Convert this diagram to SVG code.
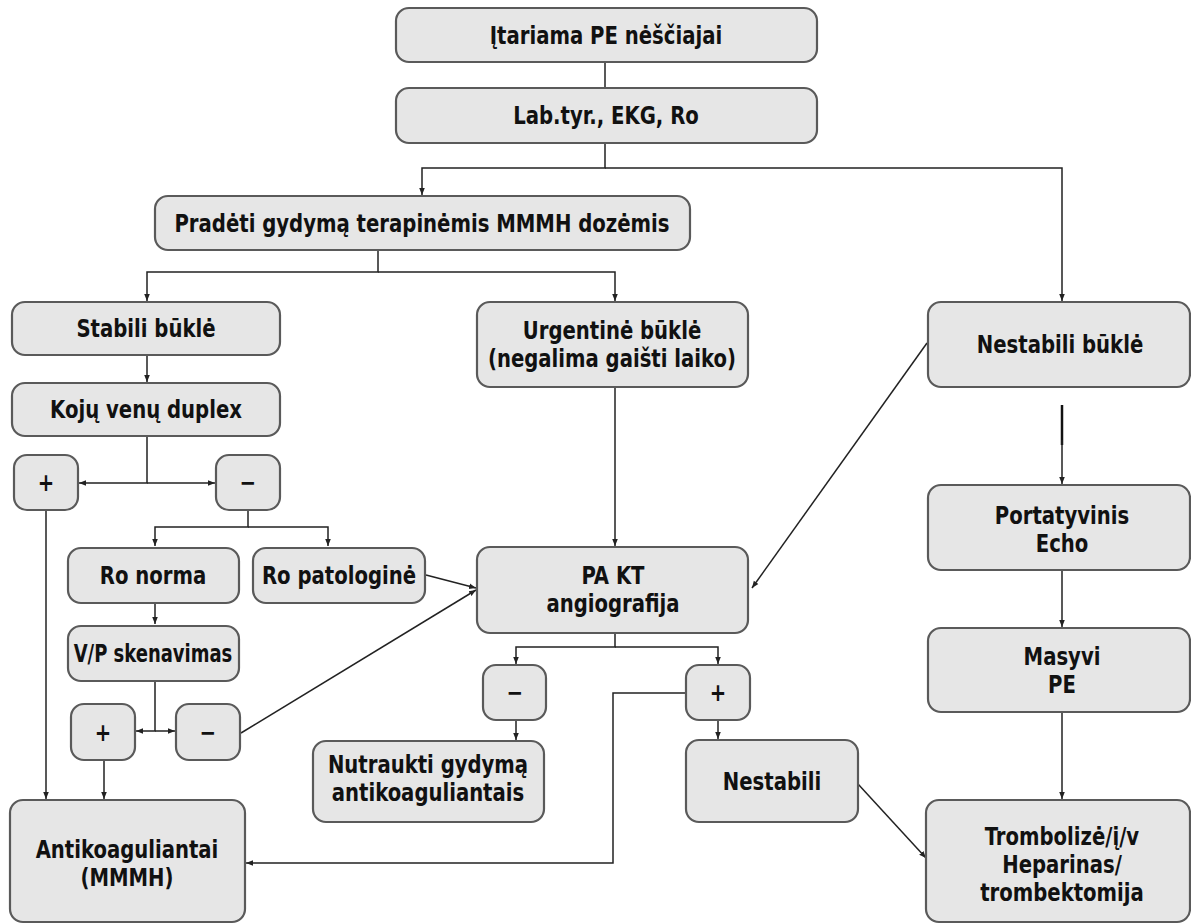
<svg xmlns="http://www.w3.org/2000/svg" width="1191" height="924" viewBox="0 0 1191 924">
<style>
.box{fill:#e6e6e6;stroke:#5a5a5a;stroke-width:2.2}
.t{font-family:"DejaVu Sans Condensed","Liberation Sans",sans-serif;font-weight:bold;font-size:25px;fill:#111;text-anchor:middle;transform-box:fill-box;transform-origin:center;transform:scaleX(0.875)}
.m{font-size:24px;transform:scaleX(0.91)}
.c{fill:none;stroke:#222;stroke-width:1.5}
</style>
<defs>
<marker id="ah" viewBox="0 0 10 10" refX="10" refY="5" markerWidth="7" markerHeight="7" markerUnits="userSpaceOnUse" orient="auto">
<path d="M0,1 L10,5 L0,9 Z" fill="#222"/>
</marker>
</defs>
<rect width="1191" height="924" fill="#fff"/>
<g id="connectors">
<line class="c" x1="605" y1="62" x2="605" y2="88"/>
<polyline class="c" points="605,143 605,168 422,168 422,195" marker-end="url(#ah)"/>
<polyline class="c" points="605,168 1062,168 1062,301" marker-end="url(#ah)"/>
<polyline class="c" points="378,250 378,272 147,272 147,301" marker-end="url(#ah)"/>
<polyline class="c" points="378,272 615,272 615,301" marker-end="url(#ah)"/>
<line class="c" x1="147" y1="355" x2="147" y2="382" marker-end="url(#ah)"/>
<polyline class="c" points="147,436 147,483 79,483" marker-end="url(#ah)"/>
<line class="c" x1="147" y1="483" x2="215" y2="483" marker-end="url(#ah)"/>
<line class="c" x1="46" y1="510" x2="46" y2="799" marker-end="url(#ah)"/>
<polyline class="c" points="248,510 248,527 155,527 155,546" marker-end="url(#ah)"/>
<polyline class="c" points="248,527 328,527 328,546" marker-end="url(#ah)"/>
<line class="c" x1="426" y1="575" x2="476" y2="588" marker-end="url(#ah)"/>
<line class="c" x1="155" y1="603" x2="155" y2="624" marker-end="url(#ah)"/>
<polyline class="c" points="155,681 155,731 136,731" marker-end="url(#ah)"/>
<line class="c" x1="155" y1="731" x2="175" y2="731" marker-end="url(#ah)"/>
<line class="c" x1="241" y1="733" x2="476" y2="590" marker-end="url(#ah)"/>
<line class="c" x1="104" y1="760" x2="104" y2="799" marker-end="url(#ah)"/>
<line class="c" x1="615" y1="387" x2="615" y2="546" marker-end="url(#ah)"/>
<polyline class="c" points="615,633 615,647 516,647 516,664" marker-end="url(#ah)"/>
<polyline class="c" points="615,647 718,647 718,664" marker-end="url(#ah)"/>
<line class="c" x1="516" y1="720" x2="516" y2="740" marker-end="url(#ah)"/>
<polyline class="c" points="686,693 613,693 613,863 246,863" marker-end="url(#ah)"/>
<line class="c" x1="718" y1="720" x2="718" y2="739" marker-end="url(#ah)"/>
<line class="c" x1="858" y1="784" x2="926" y2="858" marker-end="url(#ah)"/>
<line class="c" x1="927" y1="343" x2="752" y2="588" marker-end="url(#ah)"/>
<line x1="1062" y1="405" x2="1062" y2="445" stroke="#111" stroke-width="2.5"/>
<line class="c" x1="1062" y1="440" x2="1062" y2="484" marker-end="url(#ah)"/>
<line class="c" x1="1062" y1="570" x2="1062" y2="627" marker-end="url(#ah)"/>
<line class="c" x1="1062" y1="712" x2="1062" y2="799" marker-end="url(#ah)"/>
</g>
<g id="n1"><rect class="box" x="396" y="8" width="421" height="54" rx="13"/><text class="t" x="606" y="44">Įtariama PE nėščiajai</text></g>
<g id="n2"><rect class="box" x="396" y="88" width="421" height="55" rx="13"/><text class="t" x="606" y="124">Lab.tyr., EKG, Ro</text></g>
<g id="n3"><rect class="box" x="155" y="196" width="535" height="54" rx="13"/><text class="t" x="422" y="232">Pradėti gydymą terapinėmis MMMH dozėmis</text></g>
<g id="n4"><rect class="box" x="12" y="302" width="268" height="53" rx="13"/><text class="t" x="146" y="337">Stabili būklė</text></g>
<g id="n5"><rect class="box" x="12" y="383" width="268" height="53" rx="13"/><text class="t" x="146" y="418">Kojų venų duplex</text></g>
<g id="n6"><rect class="box" x="14" y="455" width="64" height="55" rx="13"/><text class="t" x="46" y="491">+</text></g>
<g id="n7"><rect class="box" x="216" y="455" width="64" height="55" rx="13"/><text class="t" x="248" y="491">−</text></g>
<g id="n8"><rect class="box" x="68" y="548" width="171" height="55" rx="13"/><text class="t" x="153" y="584">Ro norma</text></g>
<g id="n9"><rect class="box" x="253" y="548" width="172" height="55" rx="13"/><text class="t" x="339" y="584">Ro patologinė</text></g>
<g id="n10"><rect class="box" x="68" y="626" width="171" height="55" rx="13"/><text class="t" x="153" y="662" style="transform:scaleX(0.8)">V/P skenavimas</text></g>
<g id="n11"><rect class="box" x="71" y="704" width="64" height="56" rx="13"/><text class="t" x="103" y="741">+</text></g>
<g id="n12"><rect class="box" x="176" y="704" width="64" height="56" rx="13"/><text class="t" x="208" y="741">−</text></g>
<g id="n13"><rect class="box" x="10" y="800" width="235" height="122" rx="13"/><text class="t m" x="127" y="858">Antikoaguliantai</text><text class="t m" x="127" y="886">(MMMH)</text></g>
<g id="n14"><rect class="box" x="477" y="302" width="271" height="85" rx="13"/><text class="t m" x="612" y="339">Urgentinė būklė</text><text class="t m" x="612" y="367">(negalima gaišti laiko)</text></g>
<g id="n15"><rect class="box" x="477" y="547" width="271" height="86" rx="13"/><text class="t m" x="613" y="584">PA KT</text><text class="t m" x="613" y="612">angiografija</text></g>
<g id="n16"><rect class="box" x="483" y="665" width="63" height="55" rx="13"/><text class="t" x="515" y="701">−</text></g>
<g id="n17"><rect class="box" x="686" y="665" width="64" height="55" rx="13"/><text class="t" x="718" y="701">+</text></g>
<g id="n18"><rect class="box" x="313" y="741" width="231" height="81" rx="13"/><text class="t m" x="428" y="773">Nutraukti gydymą</text><text class="t m" x="428" y="801">antikoaguliantais</text></g>
<g id="n19"><rect class="box" x="686" y="740" width="172" height="82" rx="13"/><text class="t" x="772" y="790">Nestabili</text></g>
<g id="n20"><rect class="box" x="928" y="302" width="262" height="85" rx="13"/><text class="t" x="1060" y="353">Nestabili būklė</text></g>
<g id="n21"><rect class="box" x="928" y="485" width="262" height="85" rx="13"/><text class="t m" x="1062" y="524">Portatyvinis</text><text class="t m" x="1062" y="552">Echo</text></g>
<g id="n22"><rect class="box" x="928" y="628" width="262" height="84" rx="13"/><text class="t m" x="1062" y="665">Masyvi</text><text class="t m" x="1062" y="693">PE</text></g>
<g id="n23"><rect class="box" x="926" y="800" width="264" height="122" rx="13"/><text class="t m" x="1062" y="845">Trombolizė/į/v</text><text class="t m" x="1062" y="873">Heparinas/</text><text class="t m" x="1062" y="901">trombektomija</text></g>
</svg>
